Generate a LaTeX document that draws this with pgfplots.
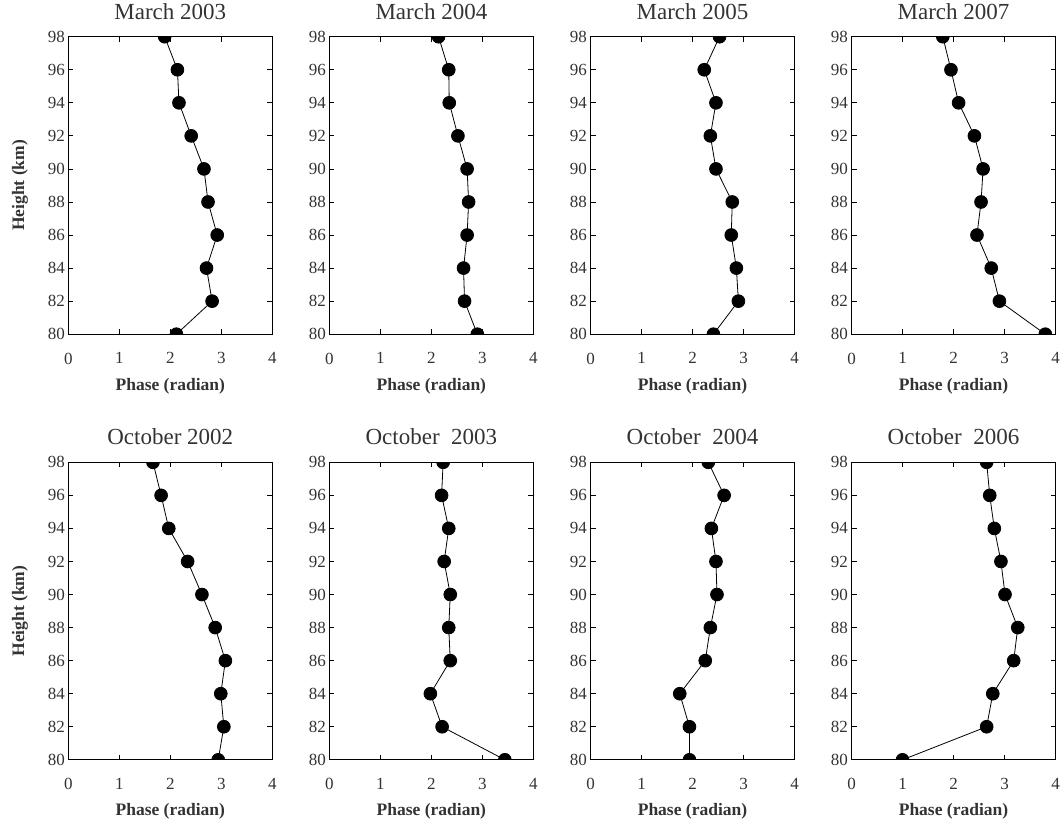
\documentclass[border=0pt]{standalone}
\usepackage{fontspec}
\setmainfont{Liberation Serif}
\usepackage{pgfplots}
\pgfplotsset{compat=1.18}
\definecolor{txt}{HTML}{333333}
\pgfplotsset{
 panel/.style={
  scale only axis, width=204pt, height=297.5pt,
  xmin=0,xmax=4,ymin=80,ymax=98,
  xtick={0,1,2,3,4}, ytick={80,82,...,98},
  tick align=inside, tick pos=both, major tick length=5pt,
  axis line style={line width=1pt},
  every tick/.style={black, line width=0.8pt},
  tick label style={font=\fontsize{17}{17}\selectfont, text=txt},
  xticklabel style={yshift=-15pt},
  /pgf/number format/assume math mode=true,
  xlabel={Phase (radian)},
  xlabel style={at={(axis description cs:0.5,-0.188)}, anchor=base, font=\fontsize{17.5}{17.5}\selectfont\bfseries, text=txt},
  title style={at={(axis description cs:0.5,1.039)}, anchor=base, font=\fontsize{23}{23}\selectfont, text=txt},
  ylabel style={at={(axis description cs:-0.237,0.5)}, anchor=center, font=\fontsize{17.5}{17.5}\selectfont\bfseries, text=txt},
  clip marker paths=true,
 },
 pl/.style={black, line width=0.8pt, mark=*, mark size=6.4pt, mark options={fill=black,solid}},
}
\begin{document}
\begin{tikzpicture}
\useasboundingbox (0,0) rectangle (1062pt,-822pt);
% Top row
\begin{axis}[panel, at={(68.3pt,-36.7pt)}, anchor=north west, title={March 2003}, ylabel={Height (km)}]
\addplot[pl] coordinates {(1.89,98)(2.14,96)(2.17,94)(2.41,92)(2.66,90)(2.74,88)(2.92,86)(2.71,84)(2.82,82)(2.12,80)};
\end{axis}
\begin{axis}[panel, at={(329.4pt,-36.7pt)}, anchor=north west, title={March 2004}]
\addplot[pl] coordinates {(2.14,98)(2.34,96)(2.35,94)(2.52,92)(2.70,90)(2.73,88)(2.70,86)(2.63,84)(2.65,82)(2.90,80)};
\end{axis}
\begin{axis}[panel, at={(590.5pt,-36.7pt)}, anchor=north west, title={March 2005}]
\addplot[pl] coordinates {(2.53,98)(2.23,96)(2.46,94)(2.35,92)(2.46,90)(2.78,88)(2.76,86)(2.86,84)(2.90,82)(2.41,80)};
\end{axis}
\begin{axis}[panel, at={(851.5pt,-36.7pt)}, anchor=north west, title={March 2007}]
\addplot[pl] coordinates {(1.79,98)(1.95,96)(2.10,94)(2.41,92)(2.58,90)(2.54,88)(2.46,86)(2.74,84)(2.90,82)(3.80,80)};
\end{axis}
% Bottom row
\begin{axis}[panel, at={(68.3pt,-462.3pt)}, anchor=north west, title={October 2002}, ylabel={Height (km)}]
\addplot[pl] coordinates {(1.66,98)(1.82,96)(1.97,94)(2.34,92)(2.62,90)(2.88,88)(3.08,86)(2.99,84)(3.05,82)(2.94,80)};
\end{axis}
\begin{axis}[panel, at={(329.4pt,-462.3pt)}, anchor=north west, title={October\ \ 2003}]
\addplot[pl] coordinates {(2.23,98)(2.20,96)(2.34,94)(2.25,92)(2.37,90)(2.34,88)(2.37,86)(1.98,84)(2.21,82)(3.44,80)};
\end{axis}
\begin{axis}[panel, at={(590.5pt,-462.3pt)}, anchor=north west, title={October\ \ 2004}]
\addplot[pl] coordinates {(2.31,98)(2.62,96)(2.37,94)(2.46,92)(2.48,90)(2.35,88)(2.25,86)(1.75,84)(1.94,82)(1.94,80)};
\end{axis}
\begin{axis}[panel, at={(851.5pt,-462.3pt)}, anchor=north west, title={October\ \ 2006}]
\addplot[pl] coordinates {(2.65,98)(2.71,96)(2.80,94)(2.93,92)(3.01,90)(3.26,88)(3.18,86)(2.77,84)(2.65,82)(1.00,80)};
\end{axis}
\end{tikzpicture}
\end{document}
